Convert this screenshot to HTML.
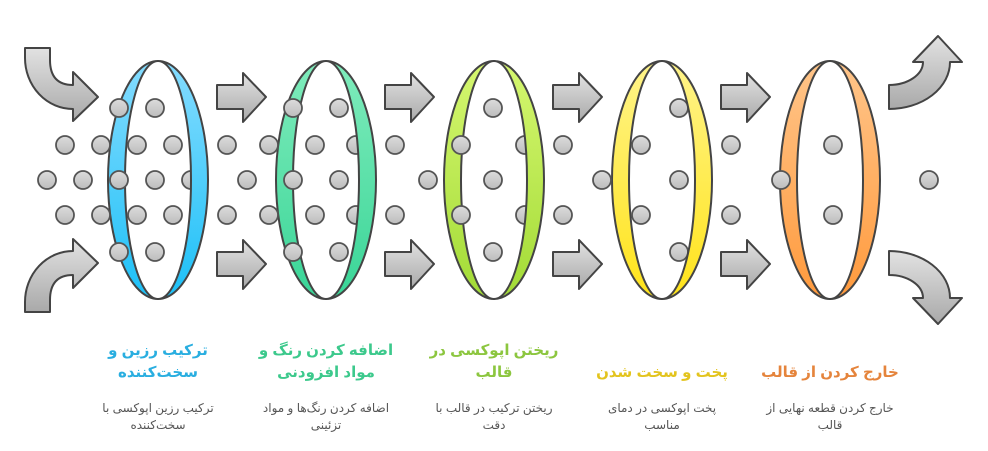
<!DOCTYPE html>
<html><head><meta charset="utf-8"><style>
body{margin:0;background:#fff;width:988px;height:451px;overflow:hidden}
svg{display:block}
text{font-family:"Liberation Sans","DejaVu Sans",sans-serif}
</style></head><body>
<svg width="988" height="451" viewBox="0 0 988 451" xmlns="http://www.w3.org/2000/svg">
<defs>
<linearGradient id="ga" x1="0" y1="0" x2="0" y2="1"><stop offset="0" stop-color="#e2e2e2"/><stop offset="1" stop-color="#a9a9a9"/></linearGradient>
<linearGradient id="gd" x1="0" y1="0" x2="0" y2="1"><stop offset="0" stop-color="#dcdcdc"/><stop offset="1" stop-color="#bdbdbd"/></linearGradient>
<linearGradient id="r1" x1="0" y1="0" x2="0" y2="1"><stop offset="0" stop-color="#85dcff"/><stop offset="1" stop-color="#1cc0f7"/></linearGradient>
<linearGradient id="r2" x1="0" y1="0" x2="0" y2="1"><stop offset="0" stop-color="#80ecbc"/><stop offset="1" stop-color="#39d597"/></linearGradient>
<linearGradient id="r3" x1="0" y1="0" x2="0" y2="1"><stop offset="0" stop-color="#d6f770"/><stop offset="1" stop-color="#a2db36"/></linearGradient>
<linearGradient id="r4" x1="0" y1="0" x2="0" y2="1"><stop offset="0" stop-color="#fff48a"/><stop offset="1" stop-color="#ffe31a"/></linearGradient>
<linearGradient id="r5" x1="0" y1="0" x2="0" y2="1"><stop offset="0" stop-color="#ffc58a"/><stop offset="1" stop-color="#ff9a3d"/></linearGradient>
<g id="arr"><path d="M0,12 L26,12 L26,0 L49,24 L26,49 L26,36 L0,36 Z" fill="url(#ga)" stroke="#444" stroke-width="2" stroke-linejoin="round"/></g>
</defs>

<!-- left curved arrows -->
<path d="M25,48 L50,48 L50,60 Q50,85 73,85 L73,72 L98,97 L73,121 L73,109 A48 51 0 0 1 25,58 Z" fill="url(#ga)" stroke="#444" stroke-width="2" stroke-linejoin="round"/>
<path d="M25,312 L50,312 L50,300 Q50,275 73,275 L73,288 L98,263 L73,239 L73,251 A48 51 0 0 0 25,302 Z" fill="url(#ga)" stroke="#444" stroke-width="2" stroke-linejoin="round"/>
<!-- right curved arrows -->
<path d="M889,85 A34 23 0 0 0 923,62 L913,62 L938,36 L962,62 L950,62 A61 47 0 0 1 889,109 Z" fill="url(#ga)" stroke="#444" stroke-width="2" stroke-linejoin="round"/>
<path d="M889,275 A34 23 0 0 1 923,298 L913,298 L938,324 L962,298 L950,298 A61 47 0 0 0 889,251 Z" fill="url(#ga)" stroke="#444" stroke-width="2" stroke-linejoin="round"/>

<!-- straight arrows -->
<use href="#arr" x="217" y="73"/><use href="#arr" x="217" y="240"/>
<use href="#arr" x="385" y="73"/><use href="#arr" x="385" y="240"/>
<use href="#arr" x="553" y="73"/><use href="#arr" x="553" y="240"/>
<use href="#arr" x="721" y="73"/><use href="#arr" x="721" y="240"/>

<!-- left crescents -->
<g stroke="#444" stroke-width="2" stroke-linejoin="round">
<path d="M158,61 A50 119 0 0 0 158,299 A33 119 0 0 1 158,61 Z" fill="url(#r1)"/>
<path d="M326,61 A50 119 0 0 0 326,299 A33 119 0 0 1 326,61 Z" fill="url(#r2)"/>
<path d="M494,61 A50 119 0 0 0 494,299 A33 119 0 0 1 494,61 Z" fill="url(#r3)"/>
<path d="M662,61 A50 119 0 0 0 662,299 A33 119 0 0 1 662,61 Z" fill="url(#r4)"/>
<path d="M830,61 A50 119 0 0 0 830,299 A33 119 0 0 1 830,61 Z" fill="url(#r5)"/>
</g>

<!-- dots -->
<g fill="url(#gd)" stroke="#555" stroke-width="1.8">
<circle cx="65" cy="145" r="9"/><circle cx="101" cy="145" r="9"/><circle cx="137" cy="145" r="9"/><circle cx="173" cy="145" r="9"/>
<circle cx="47" cy="180" r="9"/><circle cx="83" cy="180" r="9"/><circle cx="119" cy="180" r="9"/><circle cx="155" cy="180" r="9"/><circle cx="191" cy="180" r="9"/>
<circle cx="65" cy="215" r="9"/><circle cx="101" cy="215" r="9"/><circle cx="137" cy="215" r="9"/><circle cx="173" cy="215" r="9"/>
<circle cx="119" cy="108" r="9"/><circle cx="155" cy="108" r="9"/><circle cx="119" cy="252" r="9"/><circle cx="155" cy="252" r="9"/>

<circle cx="227" cy="145" r="9"/><circle cx="269" cy="145" r="9"/><circle cx="315" cy="145" r="9"/><circle cx="356" cy="145" r="9"/>
<circle cx="247" cy="180" r="9"/><circle cx="293" cy="180" r="9"/><circle cx="339" cy="180" r="9"/>
<circle cx="227" cy="215" r="9"/><circle cx="269" cy="215" r="9"/><circle cx="315" cy="215" r="9"/><circle cx="356" cy="215" r="9"/>
<circle cx="293" cy="108" r="9"/><circle cx="339" cy="108" r="9"/><circle cx="293" cy="252" r="9"/><circle cx="339" cy="252" r="9"/>

<circle cx="395" cy="145" r="9"/><circle cx="428" cy="180" r="9"/><circle cx="395" cy="215" r="9"/>
<circle cx="493" cy="108" r="9"/><circle cx="461" cy="145" r="9"/><circle cx="525" cy="145" r="9"/>
<circle cx="493" cy="180" r="9"/><circle cx="461" cy="215" r="9"/><circle cx="525" cy="215" r="9"/><circle cx="493" cy="252" r="9"/>

<circle cx="563" cy="145" r="9"/><circle cx="602" cy="180" r="9"/><circle cx="563" cy="215" r="9"/>
<circle cx="679" cy="108" r="9"/><circle cx="641" cy="145" r="9"/><circle cx="679" cy="180" r="9"/><circle cx="641" cy="215" r="9"/><circle cx="679" cy="252" r="9"/>

<circle cx="731" cy="145" r="9"/><circle cx="731" cy="215" r="9"/>
<circle cx="781" cy="180" r="9"/><circle cx="833" cy="145" r="9"/><circle cx="833" cy="215" r="9"/>
<circle cx="929" cy="180" r="9"/>
</g>

<!-- right crescents -->
<g stroke="#444" stroke-width="2" stroke-linejoin="round">
<path d="M158,61 A50 119 0 0 1 158,299 A33 119 0 0 0 158,61 Z" fill="url(#r1)"/>
<path d="M326,61 A50 119 0 0 1 326,299 A33 119 0 0 0 326,61 Z" fill="url(#r2)"/>
<path d="M494,61 A50 119 0 0 1 494,299 A33 119 0 0 0 494,61 Z" fill="url(#r3)"/>
<path d="M662,61 A50 119 0 0 1 662,299 A33 119 0 0 0 662,61 Z" fill="url(#r4)"/>
<path d="M830,61 A50 119 0 0 1 830,299 A33 119 0 0 0 830,61 Z" fill="url(#r5)"/>
</g>

<!-- titles -->
<g font-size="15" font-weight="bold" text-anchor="middle" direction="rtl">
<text x="158" y="355" fill="#29aee0">ترکیب رزین و</text>
<text x="158" y="377" fill="#29aee0">سخت‌کننده</text>
<text x="326" y="355" fill="#3cc98c">اضافه کردن رنگ و</text>
<text x="326" y="377" fill="#3cc98c">مواد افزودنی</text>
<text x="494" y="355" fill="#8cc63f">ریختن اپوکسی در</text>
<text x="494" y="377" fill="#8cc63f">قالب</text>
<text x="662" y="377" fill="#e3c41e">پخت و سخت شدن</text>
<text x="830" y="377" fill="#e5843c">خارج کردن از قالب</text>
</g>
<!-- descriptions -->
<g font-size="12" fill="#555" text-anchor="middle" direction="rtl">
<text x="158" y="412">ترکیب رزین اپوکسی با</text>
<text x="158" y="429">سخت‌کننده</text>
<text x="326" y="412">اضافه کردن رنگ‌ها و مواد</text>
<text x="326" y="429">تزئینی</text>
<text x="494" y="412">ریختن ترکیب در قالب با</text>
<text x="494" y="429">دقت</text>
<text x="662" y="412">پخت اپوکسی در دمای</text>
<text x="662" y="429">مناسب</text>
<text x="830" y="412">خارج کردن قطعه نهایی از</text>
<text x="830" y="429">قالب</text>
</g>
</svg>
</body></html>
